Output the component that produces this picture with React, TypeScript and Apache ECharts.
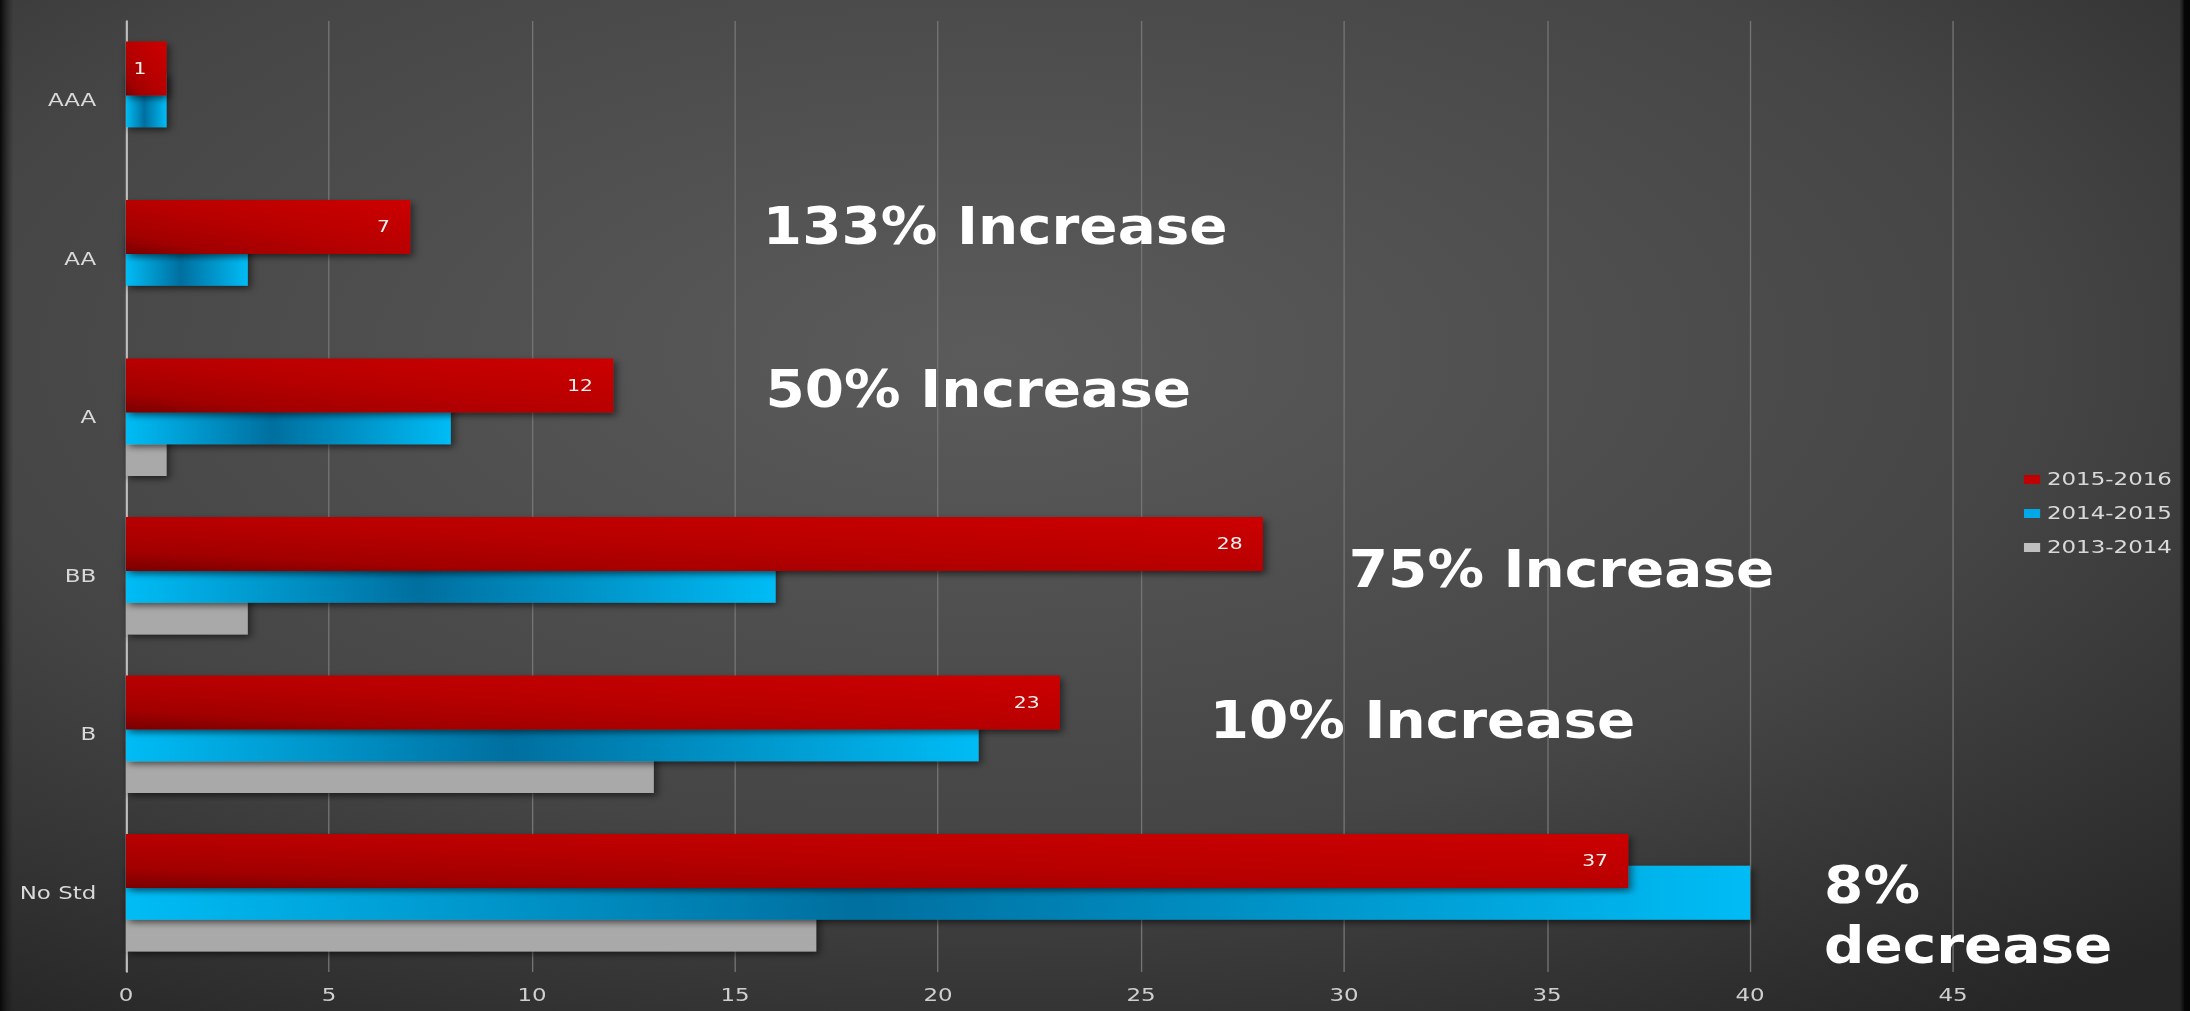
import React, { useEffect, useRef } from "react";
import * as echarts from "echarts";

const categories = ["AAA", "AA", "A", "BB", "B", "No Std"];
const seriesNames = ["2015-2016", "2014-2015", "2013-2014"];
const values2015 = [1, 7, 12, 28, 23, 37];
const values2014 = [1, 3, 8, 16, 21, 40];
const values2013 = [0, 0, 1, 3, 13, 17];
const xTicks = { min: 0, max: 45, interval: 5 };

// the reference is a horizontally stretched picture of the chart
const STRETCH = 1.3502;
const BASE_W = 1622;
const H = 1011;

const annotations = [
  { text: "133% Increase", x: 565, y: 226 },
  { text: "50% Increase", x: 567, y: 389 },
  { text: "75% Increase", x: 999, y: 569 },
  { text: "10% Increase", x: 896, y: 720 },
  { text: "8%", x: 1351, y: 885 },
  { text: "decrease", x: 1351, y: 945 },
];

export default function App() {
  const ref = useRef<HTMLDivElement>(null);
  useEffect(() => {
    if (!ref.current) return;
    const chart = echarts.init(ref.current, null, { renderer: "svg" });
    const shadow = {
      shadowBlur: 6,
      shadowColor: "rgba(0,0,0,0.55)",
      shadowOffsetX: 2,
      shadowOffsetY: 3,
    };
    const labelFont = "DejaVu Sans";
    chart.setOption({
      animation: false,
      backgroundColor: {
        type: "radial",
        x: 0.45,
        y: 0.35,
        r: 0.8,
        colorStops: [
          { offset: 0, color: "#5b5b5b" },
          { offset: 0.6, color: "#454545" },
          { offset: 1, color: "#262626" },
        ],
      },
      textStyle: { fontFamily: labelFont },
      grid: { left: 93.3, right: 175.5, top: 21, bottom: 39, containLabel: false },
      legend: {
        orient: "vertical",
        left: 1494,
        top: 466,
        itemWidth: 12,
        itemHeight: 9,
        itemGap: 17,
        icon: "rect",
        textStyle: { color: "#d9d9d9", fontSize: 17, fontFamily: labelFont },
        data: [
          { name: seriesNames[0], itemStyle: { color: "#c00000" } },
          { name: seriesNames[1], itemStyle: { color: "#00a8e8" } },
          { name: seriesNames[2], itemStyle: { color: "#bfbfbf" } },
        ],
      },
      xAxis: {
        type: "value",
        min: xTicks.min,
        max: xTicks.max,
        interval: xTicks.interval,
        axisLine: { show: false },
        axisTick: { show: false },
        axisLabel: { color: "#cfcfcf", fontSize: 17, margin: 15, fontFamily: labelFont },
        splitLine: { show: true, lineStyle: { color: "#747474", width: 1 } },
      },
      yAxis: {
        type: "category",
        inverse: true,
        data: categories,
        axisLine: { show: true, lineStyle: { color: "#bdbdbd", width: 1.5 } },
        axisTick: { show: false },
        axisLabel: { color: "#d9d9d9", fontSize: 17, margin: 22, fontFamily: labelFont },
      },
      graphic: [
        {
          type: "rect",
          shape: { x: 0, y: 0, width: 10, height: H },
          silent: true,
          z: 0,
          style: {
            fill: {
              type: "linear",
              x: 0,
              y: 0,
              x2: 1,
              y2: 0,
              colorStops: [
                { offset: 0, color: "rgba(8,8,8,1)" },
                { offset: 1, color: "rgba(30,30,30,0)" },
              ],
            },
          },
        },
        {
          type: "rect",
          shape: { x: BASE_W - 8, y: 0, width: 8, height: H },
          silent: true,
          z: 0,
          style: {
            fill: {
              type: "linear",
              x: 0,
              y: 0,
              x2: 1,
              y2: 0,
              colorStops: [
                { offset: 0, color: "rgba(20,20,20,0)" },
                { offset: 0.5, color: "rgba(5,5,5,1)" },
                { offset: 1, color: "rgba(5,5,5,1)" },
              ],
            },
          },
        },
        ...annotations.map((a) => ({
          type: "text",
          x: a.x,
          y: a.y,
          scaleX: 0.804,
          z: 100,
          style: {
            text: a.text,
            fill: "#ffffff",
            font: "bold 52px 'DejaVu Sans'",
            textAlign: "left",
            textVerticalAlign: "middle",
          },
        })),
      ],
      series: [
        {
          name: seriesNames[0],
          type: "bar",
          data: values2015,
          barWidth: 54,
          barGap: "-41%",
          z: 4,
          itemStyle: {
            color: {
              type: "linear",
              x: 0,
              y: 1,
              x2: 1,
              y2: 0,
              colorStops: [
                { offset: 0, color: "#7a0000" },
                { offset: 0.18, color: "#a20000" },
                { offset: 0.5, color: "#b80000" },
                { offset: 1, color: "#cc0000" },
              ],
            },
            ...shadow,
          },
          label: {
            show: true,
            position: "insideRight",
            distance: 15,
            color: "#f2f2f2",
            fontSize: 15,
            fontFamily: labelFont,
          },
        },
        {
          name: seriesNames[1],
          type: "bar",
          data: values2014,
          barWidth: 54,
          barGap: "-41%",
          z: 3,
          itemStyle: {
            color: {
              type: "linear",
              x: 0,
              y: 0,
              x2: 1,
              y2: 0,
              colorStops: [
                { offset: 0, color: "#00bcf5" },
                { offset: 0.45, color: "#006f9f" },
                { offset: 1, color: "#00bcf5" },
              ],
            },
            ...shadow,
          },
        },
        {
          name: seriesNames[2],
          type: "bar",
          data: values2013,
          barWidth: 54,
          barGap: "-41%",
          z: 2,
          itemStyle: { color: "#a9a9a9", ...shadow },
        },
      ],
    });
    return () => chart.dispose();
  }, []);
  return (
    <div
      ref={ref}
      style={{
        position: "fixed",
        left: 0,
        top: 0,
        width: BASE_W,
        height: H,
        transform: `scaleX(${STRETCH})`,
        transformOrigin: "0 0",
      }}
    />
  );
}
